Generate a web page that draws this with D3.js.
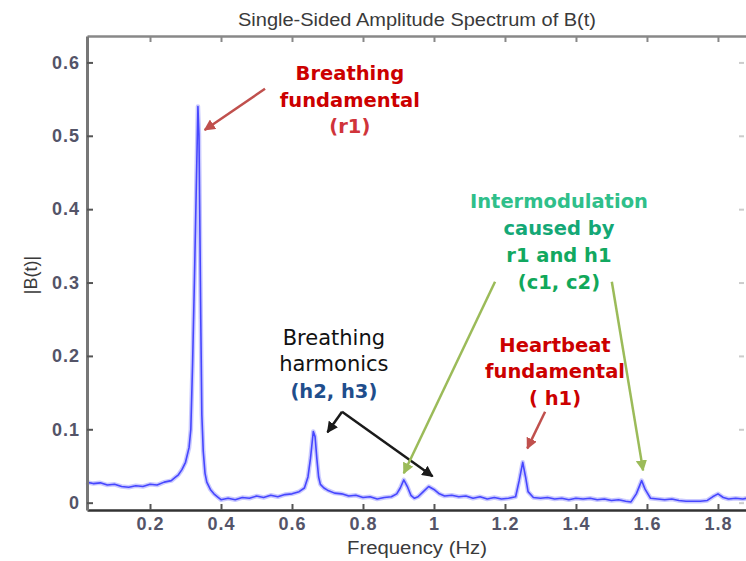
<!DOCTYPE html>
<meta charset="utf-8">
<title>Single-Sided Amplitude Spectrum of B(t)</title>
<style>
    body { margin: 0; background: #fff; }
    .tick text { font-family: "Liberation Sans", Arial, sans-serif; font-weight: bold; font-size: 18px; fill: #545468; letter-spacing: 1px; }
    .note { font-family: "DejaVu Sans", Verdana, sans-serif; font-size: 19.5px; font-weight: bold; text-anchor: middle; }
</style>
<body>
<script src="https://cdnjs.cloudflare.com/ajax/libs/d3/7.8.5/d3.min.js"></script>
<script>
    const width = 746, height = 561;

    // spectrum
    const freqHz = [0.02, 0.04, 0.06, 0.08, 0.10, 0.12, 0.14, 0.16, 0.18, 0.20, 0.22, 0.24, 0.26, 0.27, 0.28, 0.29,
        0.30, 0.31, 0.315, 0.32, 0.325, 0.33, 0.335, 0.338, 0.34, 0.343, 0.346, 0.35, 0.355, 0.36, 0.37, 0.38, 0.39,
        0.40, 0.42, 0.44, 0.46, 0.48, 0.50, 0.52, 0.54, 0.56, 0.58, 0.60, 0.62, 0.635, 0.645, 0.652, 0.66, 0.665,
        0.67, 0.675, 0.68, 0.69, 0.70, 0.72, 0.74, 0.76, 0.78, 0.80, 0.82, 0.84, 0.86, 0.88, 0.895, 0.905, 0.915,
        0.925, 0.935, 0.945, 0.955, 0.97, 0.985, 1.00, 1.015, 1.03, 1.05, 1.07, 1.09, 1.11, 1.13, 1.15, 1.17, 1.19,
        1.21, 1.23, 1.24, 1.25, 1.258, 1.265, 1.28, 1.30, 1.32, 1.34, 1.36, 1.38, 1.40, 1.42, 1.44, 1.46, 1.48,
        1.50, 1.52, 1.54, 1.555, 1.57, 1.585, 1.595, 1.61, 1.63, 1.65, 1.67, 1.69, 1.71, 1.73, 1.75, 1.77, 1.785,
        1.80, 1.815, 1.83, 1.85, 1.87, 1.88];
    const amplitude = [0.028, 0.026, 0.027, 0.024, 0.025, 0.022, 0.021, 0.023, 0.022, 0.025, 0.024, 0.028, 0.030, 0.034, 0.038, 0.045,
        0.055, 0.075, 0.10, 0.19, 0.30, 0.42, 0.54, 0.50, 0.40, 0.25, 0.12, 0.07, 0.04, 0.028, 0.018, 0.012, 0.008,
        0.004, 0.006, 0.004, 0.007, 0.006, 0.009, 0.007, 0.010, 0.008, 0.011, 0.012, 0.015, 0.020, 0.035, 0.060, 0.097, 0.090,
        0.060, 0.035, 0.025, 0.020, 0.017, 0.013, 0.012, 0.009, 0.010, 0.007, 0.008, 0.005, 0.007, 0.008, 0.012, 0.020, 0.031,
        0.022, 0.010, 0.006, 0.008, 0.015, 0.022, 0.018, 0.012, 0.009, 0.010, 0.008, 0.009, 0.006, 0.008, 0.005, 0.007, 0.005,
        0.006, 0.008, 0.030, 0.055, 0.035, 0.015, 0.007, 0.006, 0.007, 0.005, 0.006, 0.004, 0.006, 0.005, 0.006, 0.004, 0.005,
        0.003, 0.004, 0.002, 0.001, 0.012, 0.030, 0.018, 0.006, 0.005, 0.004, 0.005, 0.003, 0.002, 0.002, 0.002, 0.003, 0.008,
        0.012, 0.007, 0.005, 0.006, 0.005, 0.006];

    const xTicks = [0.2, 0.4, 0.6, 0.8, 1.0, 1.2, 1.4, 1.6, 1.8];
    const xTickLabels = ["0.2", "0.4", "0.6", "0.8", "1", "1.2", "1.4", "1.6", "1.8"];
    const yTicks = [0, 0.1, 0.2, 0.3, 0.4, 0.5, 0.6];
    const yTickLabels = ["0", "0.1", "0.2", "0.3", "0.4", "0.5", "0.6"];

    const r1Lines = ["Breathing", "fundamental", "(r1)"];
    const harmonicLines = ["Breathing", "harmonics", "(h2, h3)"];
    const interLines = ["Intermodulation", "caused by", "r1 and h1", "(c1, c2)"];
    const h1Lines = ["Heartbeat", "fundamental", "( h1)"];

    const margin = {top: 36, right: 0, bottom: 51, left: 87};

    const x = d3.scaleLinear().domain([0.0225, 1.879]).range([margin.left, width - margin.right]);
    const y = d3.scaleLinear().domain([-0.01, 0.636]).range([height - margin.bottom, margin.top]);

    const svg = d3.select("body").append("svg")
        .attr("width", width).attr("height", height);

    const defs = svg.append("defs");
    [["red", "#c0504d"], ["black", "#1a1a1a"], ["green", "#9bbb59"]].forEach(([id, c]) => {
        defs.append("marker")
            .attr("id", "arrow-" + id)
            .attr("viewBox", "0 0 10 10")
            .attr("refX", 9).attr("refY", 5)
            .attr("markerWidth", 4.5).attr("markerHeight", 4.5)
            .attr("orient", "auto")
            .append("path")
            .attr("d", "M0,0L10,5L0,10Z")
            .attr("fill", c);
    });

    // title
    svg.append("text")
        .attr("x", 417).attr("y", 26)
        .attr("text-anchor", "middle")
        .attr("font-family", "Liberation Sans, Arial, sans-serif")
        .attr("font-size", 18)
        .attr("textLength", 358)
        .attr("lengthAdjust", "spacingAndGlyphs")
        .attr("fill", "#3a3a3a")
        .text("Single-Sided Amplitude Spectrum of B(t)");

    // frame: top and right
    svg.append("g")
        .attr("transform", `translate(0,${margin.top})`)
        .call(d3.axisTop(x).tickValues(xTicks).tickSize(-6).tickSizeOuter(0).tickFormat(""))
        .call(g => g.select(".domain").attr("stroke", "#888").attr("stroke-width", 2.5))
        .call(g => g.selectAll(".tick line").attr("stroke", "#888").attr("stroke-width", 2));

    svg.append("g")
        .attr("transform", `translate(${width - 2},0)`)
        .call(d3.axisRight(y).tickValues(yTicks).tickSize(-5).tickSizeOuter(0).tickFormat(""))
        .call(g => g.select(".domain").attr("stroke", "none"))
        .call(g => g.selectAll(".tick line").attr("stroke", "#ccc").attr("stroke-width", 2));

    // spectrum
    const pts = freqHz.map((f, i) => [f, amplitude[i]]);
    const line = d3.line().x(d => x(d[0])).y(d => y(d[1]));

    svg.append("path")
        .datum(pts)
        .attr("fill", "none")
        .attr("stroke", "#9c9cff")
        .attr("stroke-width", 4.5)
        .attr("stroke-opacity", 0.55)
        .attr("stroke-linejoin", "round")
        .attr("d", line);

    svg.append("path")
        .datum(pts)
        .attr("fill", "none")
        .attr("stroke", "#4646ff")
        .attr("stroke-width", 1.6)
        .attr("stroke-linejoin", "round")
        .attr("d", line);

    // axes
    svg.append("g")
        .attr("transform", `translate(0,${height - margin.bottom})`)
        .call(d3.axisBottom(x).tickValues(xTicks).tickSize(-6).tickSizeOuter(0).tickPadding(7)
            .tickFormat((d, i) => xTickLabels[i]))
        .call(g => g.select(".domain").attr("stroke", "#333").attr("stroke-width", 2.5))
        .call(g => g.selectAll(".tick line").attr("stroke", "#555").attr("stroke-width", 2));

    svg.append("g")
        .attr("transform", `translate(${margin.left},0)`)
        .call(d3.axisLeft(y).tickValues(yTicks).tickSize(-6).tickSizeOuter(0).tickPadding(7)
            .tickFormat((d, i) => yTickLabels[i]))
        .call(g => g.select(".domain").attr("stroke", "#777").attr("stroke-width", 3))
        .call(g => g.selectAll(".tick line").attr("stroke", "#555").attr("stroke-width", 2));

    // axis labels
    svg.append("text")
        .attr("x", 417).attr("y", 554)
        .attr("text-anchor", "middle")
        .attr("font-family", "Liberation Sans, Arial, sans-serif")
        .attr("font-size", 18)
        .attr("textLength", 140)
        .attr("lengthAdjust", "spacingAndGlyphs")
        .attr("fill", "#3a3a3a")
        .text("Frequency (Hz)");

    svg.append("text")
        .attr("transform", "translate(37,275) rotate(-90)")
        .attr("text-anchor", "middle")
        .attr("font-family", "Liberation Sans, Arial, sans-serif")
        .attr("font-size", 18)
        .attr("fill", "#3a3a3a")
        .text("|B(t)|");

    // annotations
    function note(lines, f, a, step, colors, plain) {
        const t = svg.append("text").attr("class", "note")
            .attr("x", x(f)).attr("y", y(a));
        lines.forEach((s, i) => {
            const ts = t.append("tspan")
                .attr("x", x(f))
                .attr("dy", i === 0 ? "0.35em" : step)
                .attr("fill", colors[i])
                .text(s);
            if (plain && i < lines.length - 1) ts.attr("font-weight", "normal").attr("font-size", 21);
        });
    }

    function arrow(f0, a0, f1, a1, color, id) {
        svg.append("line")
            .attr("x1", x(f0)).attr("y1", y(a0))
            .attr("x2", x(f1)).attr("y2", y(a1))
            .attr("stroke", color)
            .attr("stroke-width", 2.5)
            .attr("marker-end", `url(#arrow-${id})`);
    }

    note(r1Lines, 0.763, 0.585, 26.5, ["#cc0000", "#cc0000", "#d0343a"]);
    arrow(0.524, 0.564, 0.354, 0.508, "#c0504d", "red");

    note(harmonicLines, 0.718, 0.225, 26.5, ["#111", "#111", "#1f4e8c"], true);
    arrow(0.741, 0.124, 0.700, 0.096, "#1a1a1a", "black");
    arrow(0.741, 0.124, 0.996, 0.036, "#1a1a1a", "black");

    note(interLines, 1.352, 0.411, 27, ["#2fbf8a", "#14a876", "#12a860", "#11a85a"]);
    arrow(1.172, 0.301, 0.915, 0.040, "#9bbb59", "green");
    arrow(1.501, 0.301, 1.589, 0.044, "#9bbb59", "green");

    note(h1Lines, 1.341, 0.215, 26.5, ["#cc0000", "#cc0000", "#cc0000"]);
    arrow(1.313, 0.124, 1.263, 0.074, "#c0504d", "red");
</script>
</body>
